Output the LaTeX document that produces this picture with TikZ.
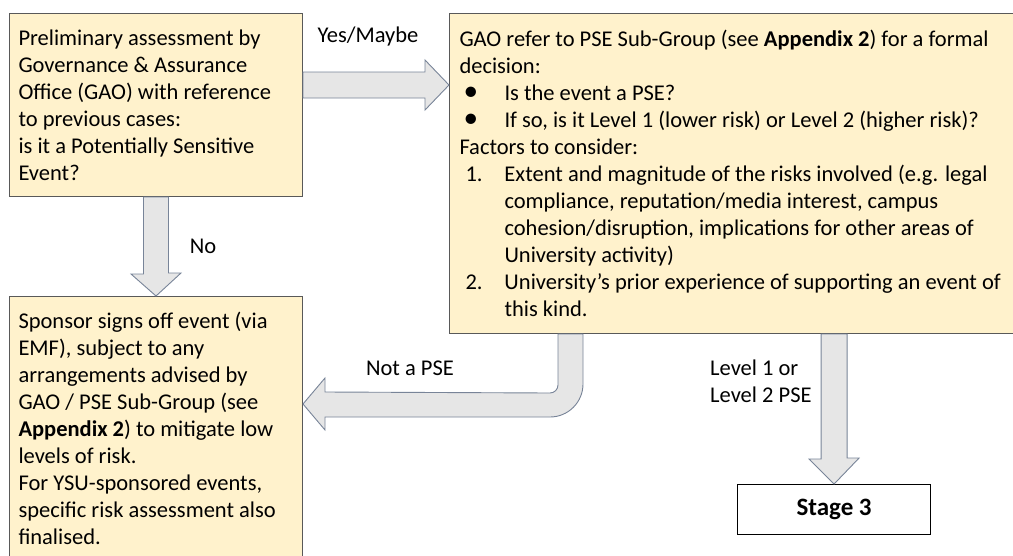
\documentclass[tikz,border=0pt]{standalone}
\usepackage{fontspec}
\setmainfont{Carlito}
\usetikzlibrary{calc}
\definecolor{boxfill}{RGB}{255,242,204}
\definecolor{boxline}{RGB}{89,89,89}
\definecolor{arrowfill}{RGB}{230,230,230}
\definecolor{arrowline}{RGB}{120,132,152}
\newcommand{\bigdot}{\smash{\scalebox{1.3}{\textbullet}}}
\tikzset{
  stagebox/.style={draw=boxline,fill=boxfill,line width=1pt,anchor=north west,align=flush left,inner xsep=9pt,inner ysep=0pt,font=\fontsize{22.5}{27}\selectfont},
  blockarrow/.style={draw=arrowline,fill=arrowfill,line width=0.9pt,line join=miter},
  lbl/.style={font=\fontsize{22.5}{27}\selectfont,inner sep=0pt}
}
\begin{document}
\begin{tikzpicture}[x=1pt,y=-1pt]
\useasboundingbox (0,0) rectangle (1013,555);
\clip (0,0) rectangle (1013,555);
\node[stagebox,minimum width=293pt,minimum height=183pt,text width=275pt] (prelim) at (9,13) {Preliminary assessment by\\Governance \& Assurance\\Office (GAO) with reference\\to previous cases:\\is it a Potentially Sensitive\\Event?};
\node[stagebox,inner xsep=10pt,minimum width=570pt,minimum height=320pt,text width=550pt] (pse) at (449,13) {GAO refer to PSE Sub-Group (see \textbf{Appendix 2}) for a formal\\decision:\\\hspace*{4pt}\makebox[41pt][l]{\bigdot}Is the event a PSE?\\\hspace*{4pt}\makebox[41pt][l]{\bigdot}If so, is it Level 1 (lower risk) or Level 2 (higher risk)?\\Factors to consider:\\\hspace*{6pt}\makebox[39pt][l]{1.}Extent and magnitude of the risks involved (e.g. legal\\\hspace*{45pt}compliance, reputation/media interest, campus\\\hspace*{45pt}cohesion/disruption, implications for other areas of\\\hspace*{45pt}University activity)\\\hspace*{6pt}\makebox[39pt][l]{2.}University’s prior experience of supporting an event of\\\hspace*{45pt}this kind.};
\node[stagebox,minimum width=293pt,minimum height=264pt,text width=275pt] (sponsor) at (9,296) {Sponsor signs off event (via\\EMF), subject to any\\arrangements advised by\\GAO / PSE Sub-Group (see\\\textbf{Appendix 2}) to mitigate low\\levels of risk.\\For YSU-sponsored events,\\specific risk assessment also\\finalised.};
\node[draw=black,fill=white,line width=1.2pt,minimum width=193pt,minimum height=50pt,anchor=north west,font=\bfseries\fontsize{25}{29}\selectfont] (stage) at (737,484) {Stage 3};
\path (stage.north |- pse.south) coordinate (lvtop);
\path ($(pse.south west)+(109,0)$) coordinate (npin);
\path (sponsor.east |- 0,404) coordinate (nptip);
\draw[blockarrow] (prelim.east |- 0,72) -- (425,72) -- (425,60) -- (pse.west |- 0,85) -- (425,110) -- (425,98) -- (prelim.east |- 0,98) -- cycle;
\draw[blockarrow] ($(prelim.south)+(-12.5,0)$) -- ++(0,77) -- ++(-12.5,0) -- (sponsor.north) -- ++(25,-23) -- ++(-12.5,0) -- ($(prelim.south)+(12.5,0)$) -- cycle;
\draw[blockarrow] ($(lvtop)+(-13,0)$) -- ++(0,125) -- ++(-12,0) -- (stage.north) -- ++(25,-26) -- ++(-12,0) -- ($(lvtop)+(13,0)$) -- cycle;
\draw[blockarrow] (npin) -- ++(0,51) arc[start angle=0,end angle=90,radius=8] -- (325,392) -- (325,378) -- (nptip) -- (325,430) -- (325,417) -- (550,417) arc[start angle=90,end angle=0,radius=33] -- ($(npin)+(25,0)$) -- cycle;
\node[lbl] (ym) at (368,36) {Yes/Maybe};
\node[lbl] (no) at (203,246) {No};
\node[lbl] (notpse) at (410,368) {Not a PSE};
\node[lbl,align=left,anchor=west] (lvl) at (710,381) {Level 1 or\\Level 2 PSE};
\end{tikzpicture}
\end{document}
